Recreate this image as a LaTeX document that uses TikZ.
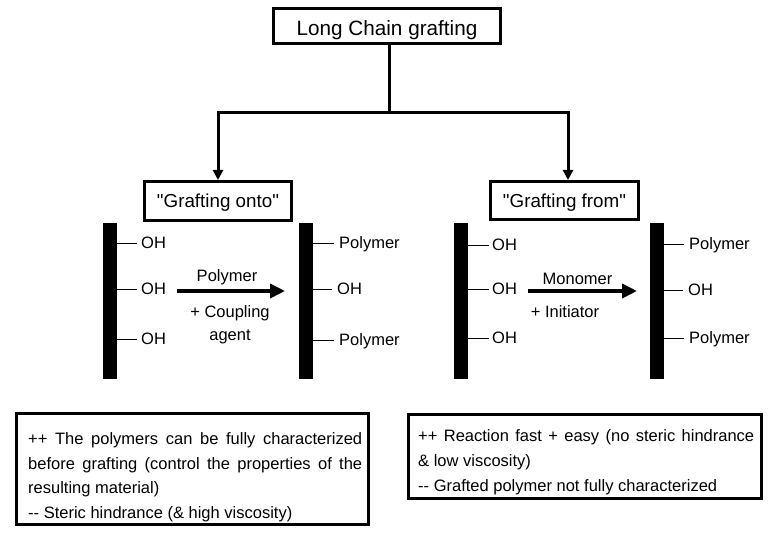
\documentclass[tikz,border=0pt]{standalone}
\usepackage{fontspec}
\setmainfont{Liberation Sans}
\newfontfamily\af{Liberation Sans}
\usetikzlibrary{arrows.meta}
\newcommand{\dd}{\mbox{-}\mbox{-}}
\begin{document}
\begin{tikzpicture}[x=1pt,y=-1pt,
  box/.style={draw,line width=3pt,inner sep=0pt},
  head/.style={font=\af\fontsize{18.8}{22}\selectfont,text height=13.4pt,text depth=0pt},
  lab/.style={font=\af\fontsize{16.5}{20}\selectfont,text height=11.8pt,text depth=0pt,inner sep=0pt},
  bar/.style={fill=black,draw=none,minimum width=14pt,minimum height=156pt,inner sep=0pt},
  stub/.style={line width=1pt},
  conn/.style={line width=3pt},
  down/.style={conn,-{Triangle[length=10pt,width=10pt]}},
  rxn/.style={line width=4pt,-{Triangle[length=15pt,width=14pt]}},
  body/.style={font=\af\fontsize{16.5}{20}\selectfont,inner sep=0pt,anchor=base west}]
\useasboundingbox (0,0) rectangle (773,540);

% top
\node[box,font=\af\fontsize{20.7}{24}\selectfont,text height=18.6pt,text depth=0pt,
      minimum width=227pt,minimum height=35pt] (top) at (387,26) {Long Chain grafting};
\node[box,head,minimum width=147pt,minimum height=39pt] (go) at (218,201) {"Grafting onto"};
\node[box,head,minimum width=148pt,minimum height=38pt] (gf) at (564.5,200.5) {"Grafting from"};

\coordinate (j) at (389,113);
\draw[conn] (top.south -| j) -- (j);
\draw[down] (j) -| (go.north);
\draw[down] (j) -| ([xshift=3.5pt]gf.north);

% bars
\node[bar] (b1) at (110,301) {};
\node[bar] (b2) at (306,301) {};
\node[bar] (b3) at (461,301) {};
\node[bar] (b4) at (656.5,301) {};

% left substrate
\node[lab,anchor=west] (o1) at (141,243) {OH};
\node[lab,anchor=west] (o2) at (141,289) {OH};
\node[lab,anchor=west] (o3) at (141,339) {OH};
\foreach \n in {o1,o2,o3} \draw[stub] (b1.east |- \n.west) -- ([xshift=-4pt]\n.west);

% grafted onto
\node[lab,anchor=west] (p1) at (339,243) {Polymer};
\node[lab,anchor=west] (p2) at (337,289) {OH};
\node[lab,anchor=west] (p3) at (339,340) {Polymer};
\foreach \n in {p1,p2,p3} \draw[stub] (b2.east |- \n.west) -- ([xshift=-5pt]\n.west);

% right substrate
\node[lab,anchor=west] (q1) at (492,245) {OH};
\node[lab,anchor=west] (q2) at (492,289) {OH};
\node[lab,anchor=west] (q3) at (492,338) {OH};
\foreach \n in {q1,q2,q3} \draw[stub] (b3.east |- \n.west) -- ([xshift=-3pt]\n.west);

% grafted from
\node[lab,anchor=west] (r1) at (689,244) {Polymer};
\node[lab,anchor=west] (r2) at (688,290) {OH};
\node[lab,anchor=west] (r3) at (689,338) {Polymer};
\foreach \n in {r1,r2,r3} \draw[stub] (b4.east |- \n.west) -- ([xshift=-5pt]\n.west);

% reaction arrows
\coordinate (a1s) at (177,291);
\coordinate (a1e) at (285,291);
\coordinate (a2s) at (528,291);
\coordinate (a2e) at (637,291);
\draw[rxn] (a1s) -- (a1e);
\draw[rxn] (a2s) -- (a2e);
\node[lab] (l1) at (227,276) {Polymer};
\node[lab] (l2) at (230,312) {+ Coupling};
\node[lab] (l3) at (230,335) {agent};
\node[lab] (l4) at (577.5,279) {Monomer};
\node[lab] (l5) at (565,312) {+ Initiator};

% bottom boxes
\node[box,minimum width=352pt,minimum height=111pt] (bl) at (192.5,469) {};
\node[box,minimum width=353pt,minimum height=84pt] (br) at (585,456.5) {};

\node[body] (t1) at (28,444) {\makebox[334pt][s]{++ The polymers can be fully characterized}};
\node[body] (t2) at (28,469) {\makebox[334pt][s]{before grafting (control the properties of the}};
\node[body] (t3) at (28,493) {resulting material)};
\node[body] (t4) at (28,518) {\dd{} Steric hindrance (\& high viscosity)};

\node[body] (u1) at (418,441.5) {\makebox[336pt][s]{++ Reaction fast + easy (no steric hindrance}};
\node[body] (u2) at (418,466.5) {\& low viscosity)};
\node[body] (u3) at (418,491.5) {\dd{} Grafted polymer not fully characterized};
\end{tikzpicture}
\end{document}
